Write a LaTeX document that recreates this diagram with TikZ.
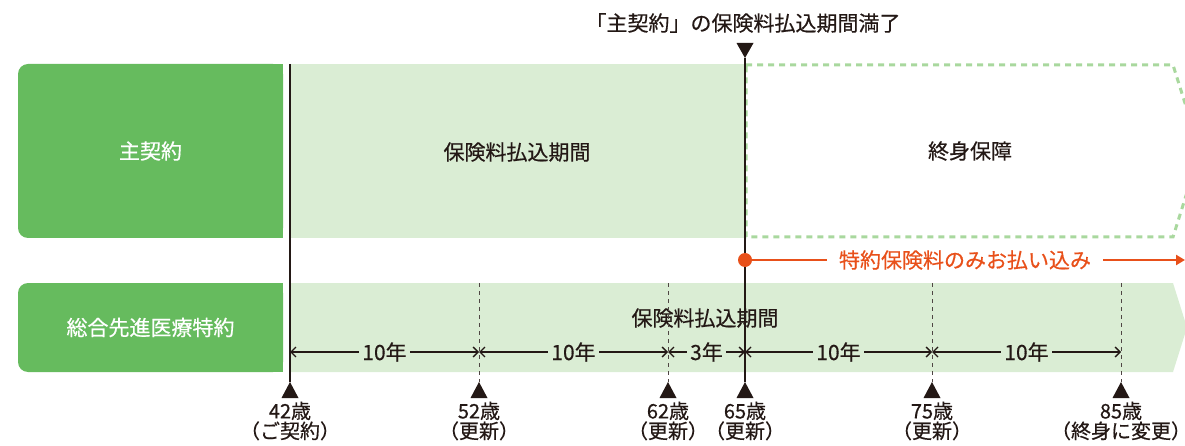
\documentclass[tikz,border=0pt]{standalone}
\usepackage{fontspec}
\setmainfont[FakeBold=0.5]{Noto Sans CJK JP}
\usetikzlibrary{arrows.meta}
\definecolor{darkgreen}{HTML}{66BB5E}
\definecolor{lightgreen}{HTML}{DAEDD4}
\definecolor{dashgreen}{HTML}{A9D89E}
\definecolor{feeorange}{HTML}{E8501A}
\definecolor{ink}{HTML}{231815}
\tikzset{labelbox/.style={fill=darkgreen, text=white, rounded corners=10pt, minimum width=265, inner sep=0, font={\fontsize{21}{23}\selectfont}},
  jptext/.style={text=ink, inner sep=0, font={\fontsize{21}{23}\selectfont}},
  dim/.style={ink, line width=1.4pt, {Straight Barb[length=5pt,width=10pt]}-{Straight Barb[length=5pt,width=10pt]}},
  tickdash/.style={ink!80, line width=1pt, dash pattern=on 4pt off 4pt},
  timeline/.style={ink, line width=1.5pt}}

\begin{document}
\begin{tikzpicture}[x=1pt,y=-1pt]
    \useasboundingbox (0,0) rectangle (1185,446);
    % periods
    \fill[lightgreen] (289,64) rectangle (745,238);
    \fill[lightgreen] (289,283) -- (1173,283) -- (1187,327.5) -- (1173,372) -- (289,372) -- cycle;
    \draw[dashgreen, line width=3pt, dash pattern=on 6pt off 5pt] (746,65) -- (1173,65) -- (1200,151) -- (1173,237) -- (746,237) -- cycle;
    % contracts
    \node[labelbox, minimum height=174] (main) at (150.5,151) {主契約};
    \fill[darkgreen] ([xshift=-12pt]main.north east) rectangle (main.south east);
    \node[labelbox, minimum height=89] (rider) at (150.5,327.5) {総合先進医療特約};
    \fill[darkgreen] ([xshift=-12pt]rider.north east) rectangle (rider.south east);
    \node[jptext] (mainpay) at (517,152) {保険料払込期間};
    \node[jptext] (whole) at (970,151) {終身保障};
    \node[jptext] (riderpay) at (705,318) {保険料払込期間};
    % end of main payment
    \node[jptext] (title) at (743,23) {「主契約」の保険料払込期間満了};
    \fill[ink] (736.5,43) -- (753.5,43) -- (745,58) -- cycle;
    \draw[timeline] (745,58) -- (745,382);
    \draw[timeline] (290,64) -- (290,382);
    \foreach \x in {479,668,932,1121}
        \draw[tickdash] (\x,283) -- (\x,382);
    % ages
    \foreach \n/\x/\age/\note in {a/290/42/ご契約, b/479/52/更新, c/668/62/更新, d/745/65/更新, e/932/75/更新, f/1121/85/終身に変更} {
        \coordinate (t\n) at (\x,352);
        \fill[ink] (\x-8.5,398) -- (\x+8.5,398) -- (\x,382) -- cycle;
        \node[jptext, align=center, font={\fontsize{20}{20}\selectfont}] (age\n) at (\x,421) {\age 歳\\（\note）};
    }
    \foreach \p/\q/\yrs in {a/b/10, b/c/10, c/d/3, d/e/10, e/f/10}
        \draw[dim] (t\p) -- (t\q) node[midway, fill=lightgreen, text=ink, inner xsep=3pt, inner ysep=0, font={\fontsize{21}{23}\selectfont}] {\yrs 年};
    % rider fee
    \fill[feeorange] (745,260) circle (7);
    \coordinate (start) at (745,260);
    \coordinate (feeend) at (1185,260);
    \node[jptext, text=feeorange, inner xsep=12pt] (fee) at (965,260) {特約保険料のみお払い込み};
    \draw[feeorange, line width=2.5pt] (start) -- (fee);
    \draw[feeorange, line width=2.5pt, -{Triangle[length=9pt,width=10pt]}] (fee) -- (feeend);
\end{tikzpicture}
\end{document}
